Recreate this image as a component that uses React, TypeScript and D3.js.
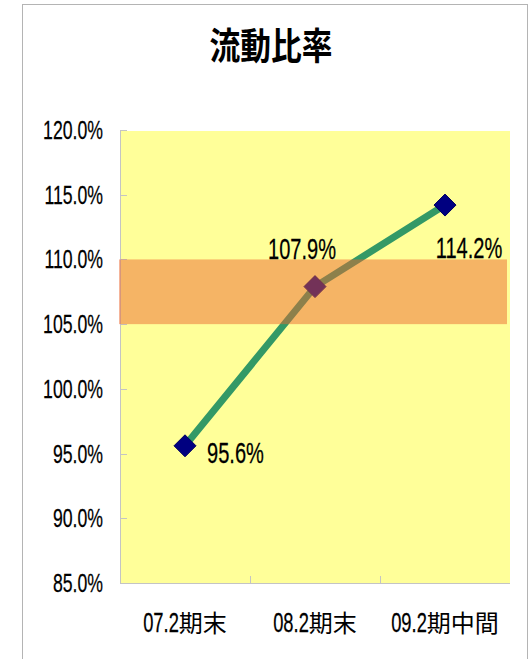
import React from "react";
import * as d3 from "d3";

const categories = ["07.2期末", "08.2期末", "09.2期中間"];
const values = [95.6, 107.9, 114.2];
const yTicks = [85, 90, 95, 100, 105, 110, 115, 120];
const bandRange = [105, 110];
const title = "流動比率";

const W = 530;
const H = 659;

const LAT = "'Liberation Sans', Arial, sans-serif";
const CJK = "'Noto Sans CJK JP', sans-serif";
const SX = 0.68;

function latinWidth(s: string, f: number) {
  let w = 0;
  for (const ch of s) {
    if (ch === ".") w += 0.278;
    else if (ch === "%") w += 0.889;
    else w += 0.556;
  }
  return w * f * SX;
}

function Narrow(props: { x: number; y: number; size: number; anchor?: string; children: string }) {
  const { x, y, size, anchor = "start", children } = props;
  return (
    <text
      transform={`translate(${x},${y}) scale(${SX},1)`}
      textAnchor={anchor}
      fontSize={size}
      fontFamily={LAT}
      fill="#000"
      stroke="#000"
      strokeWidth={0.25}
    >
      {children}
    </text>
  );
}

export default function App() {
  const plot = { left: 120, right: 510, top: 130, bottom: 583 };
  const x = d3.scaleBand<string>().domain(categories).range([plot.left, plot.right]);
  const y = d3.scaleLinear().domain([85, 120]).range([plot.bottom, plot.top]);
  const cx = (c: string) => (x(c) as number) + x.bandwidth() / 2;
  const line = d3
    .line<number>()
    .x((_, i) => cx(categories[i]))
    .y((d) => y(d));
  const fmt = (v: number) => v.toFixed(1) + "%";
  const labelOffsets: [number, number, string][] = [
    [22, 17, "start"],
    [-13, -28, "middle"],
    [24, 53, "middle"],
  ];
  const r = 11;
  const tickSize = 26;
  const labelSize = 29.5;
  const catLatin = 27;
  const catCjk = 24;
  return (
    <svg
      width={W}
      height={H}
      style={{ position: "absolute", left: 0, top: 0, background: "#fff" }}
    >
      <rect x={22.5} y={4.5} width={505} height={660} fill="#fff" stroke="#b4b4b4" strokeWidth={1} />
      <text
        transform={`translate(271,60) scale(0.83,1)`}
        textAnchor="middle"
        fontSize={37}
        fontWeight="bold"
        fontFamily={CJK}
        fill="#000"
      >
        {title}
      </text>
      <rect
        x={plot.left + 1}
        y={plot.top + 1}
        width={plot.right - plot.left - 1}
        height={plot.bottom - plot.top - 1}
        fill="#FFFF99"
      />
      {/* axes */}
      <line x1={plot.left + 0.5} x2={plot.left + 0.5} y1={plot.top} y2={plot.bottom} stroke="#c4c4c4" />
      <line x1={plot.left} x2={plot.right} y1={plot.bottom + 0.5} y2={plot.bottom + 0.5} stroke="#c4c4c4" />
      {yTicks.map((t) => (
        <g key={t}>
          <line x1={plot.left} x2={plot.left + 7} y1={Math.round(y(t)) + 0.5} y2={Math.round(y(t)) + 0.5} stroke="#c4c4c4" />
          <Narrow x={103} y={y(t) + 9} size={tickSize} anchor="end">
            {fmt(t)}
          </Narrow>
        </g>
      ))}
      {categories.slice(1).map((c) => (
        <line
          key={c}
          x1={Math.round(x(c) as number) + 0.5}
          x2={Math.round(x(c) as number) + 0.5}
          y1={plot.bottom - 7}
          y2={plot.bottom}
          stroke="#c4c4c4"
        />
      ))}
      {categories.map((c) => {
        const m = c.match(/^[0-9.]+/);
        const lat = m ? m[0] : "";
        const cjk = c.slice(lat.length);
        const wl = latinWidth(lat, catLatin);
        const wc = cjk.length * catCjk;
        const x0 = cx(c) - (wl + wc) / 2;
        return (
          <g key={c}>
            <Narrow x={x0} y={632} size={catLatin}>
              {lat}
            </Narrow>
            <text x={x0 + wl} y={632} fontSize={catCjk} fontFamily={CJK} fill="#000">
              {cjk}
            </text>
          </g>
        );
      })}
      {/* series */}
      <path d={line(values) || ""} fill="none" stroke="#339966" strokeWidth={7} strokeLinejoin="round" />
      {values.map((v, i) => {
        const px = cx(categories[i]);
        const py = y(v);
        return (
          <path
            key={i}
            d={`M${px},${py - r}L${px + r},${py}L${px},${py + r}L${px - r},${py}Z`}
            fill="#000080"
            stroke="#000060"
            strokeWidth={1}
          />
        );
      })}
      {/* target band */}
      <rect
        x={119}
        y={y(bandRange[1])}
        width={388}
        height={y(bandRange[0]) - y(bandRange[1])}
        fill="rgb(235,102,47)"
        fillOpacity={0.49}
      />
      {values.map((v, i) => (
        <Narrow
          key={i}
          x={cx(categories[i]) + labelOffsets[i][0]}
          y={y(v) + labelOffsets[i][1]}
          size={labelSize}
          anchor={labelOffsets[i][2]}
        >
          {fmt(v)}
        </Narrow>
      ))}
    </svg>
  );
}
